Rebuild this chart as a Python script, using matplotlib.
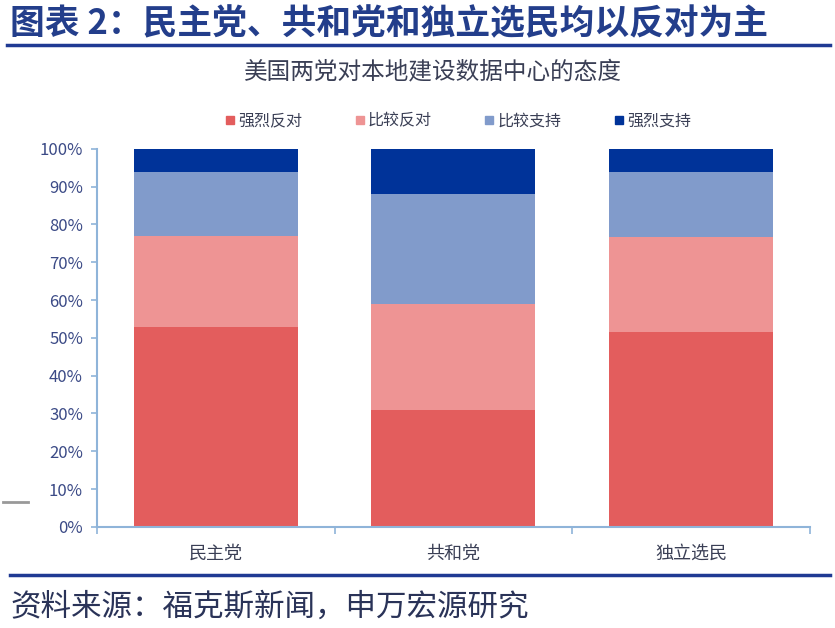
import matplotlib
matplotlib.use('Agg')
import matplotlib.pyplot as plt
from matplotlib.lines import Line2D
import numpy as np

plt.rcParams['font.family'] = ['Noto Sans CJK SC', 'DejaVu Sans']

parties = ['民主党', '共和党', '独立选民']
series_names = ['强烈反对', '比较反对', '比较支持', '强烈支持']
strong_oppose = [53, 31, 51.5]
some_oppose = [24, 28, 25.2]
some_support = [17, 29, 17.1]
strong_support = [6, 12, 6.2]
colors = ['#e35d5d', '#ee9494', '#819bcb', '#003399']
yticks = [0, 10, 20, 30, 40, 50, 60, 70, 80, 90, 100]

fig = plt.figure(figsize=(8.35, 6.28), dpi=100)
ax = fig.add_axes([0.116, 0.161, 0.854, 0.602])

x = np.arange(len(parties))
bottom = np.zeros(len(parties))
for vals, c, name in zip([strong_oppose, some_oppose, some_support, strong_support], colors, series_names):
    ax.bar(x, vals, width=0.69, bottom=bottom, color=c, label=name)
    bottom += np.array(vals)

ax.set_xlim(-0.5, 2.5)
ax.set_ylim(0, 100)
ax.set_yticks(yticks)
ax.set_yticklabels([f'{t}%' for t in yticks], fontsize=12, color='#3b4a86')
ax.set_xticks(x)
ax.set_xticklabels(parties, fontsize=13, color='#3a3f55')
ax.set_xticks([-0.5, 0.5, 1.5, 2.5], minor=True)
ax.tick_params(axis='x', which='major', length=0, pad=13)
ax.tick_params(axis='x', which='minor', length=5, color='#8fb4d9', width=1.2)
ax.tick_params(axis='y', length=4, color='#8fb4d9', width=1.2, pad=6)
for s in ['top', 'right']:
    ax.spines[s].set_visible(False)
for s in ['left', 'bottom']:
    ax.spines[s].set_color('#8fb4d9')
    ax.spines[s].set_linewidth(1.5)

handles = [Line2D([], [], marker='s', linestyle='', markersize=6, color=c) for c in colors]
fig.legend(handles, series_names, loc='center', bbox_to_anchor=(0.542, 0.807), ncol=4,
           frameon=False, fontsize=11.5, handletextpad=-0.5, columnspacing=2.6,
           labelcolor='#3a3f55')

fig.text(0.012, 0.962, '图表 2：民主党、共和党和独立选民均以反对为主', fontsize=25,
         fontweight='bold', color='#233e8b', va='center', ha='left')
fig.add_artist(Line2D([0.008, 0.994], [0.928, 0.928], color='#1f3a93', linewidth=2.5))
fig.text(0.519, 0.885, '美国两党对本地建设数据中心的态度', fontsize=17,
         color='#3a3f55', ha='center', va='center')
fig.add_artist(Line2D([0.012, 0.994], [0.084, 0.084], color='#1f3a93', linewidth=2.5))
fig.text(0.012, 0.033, '资料来源：福克斯新闻，申万宏源研究', fontsize=22,
         color='#2a3358', ha='left', va='center')
fig.add_artist(Line2D([0.004, 0.033], [0.2, 0.2], color='#999999', linewidth=2))

fig.savefig('out.png', dpi=100)
